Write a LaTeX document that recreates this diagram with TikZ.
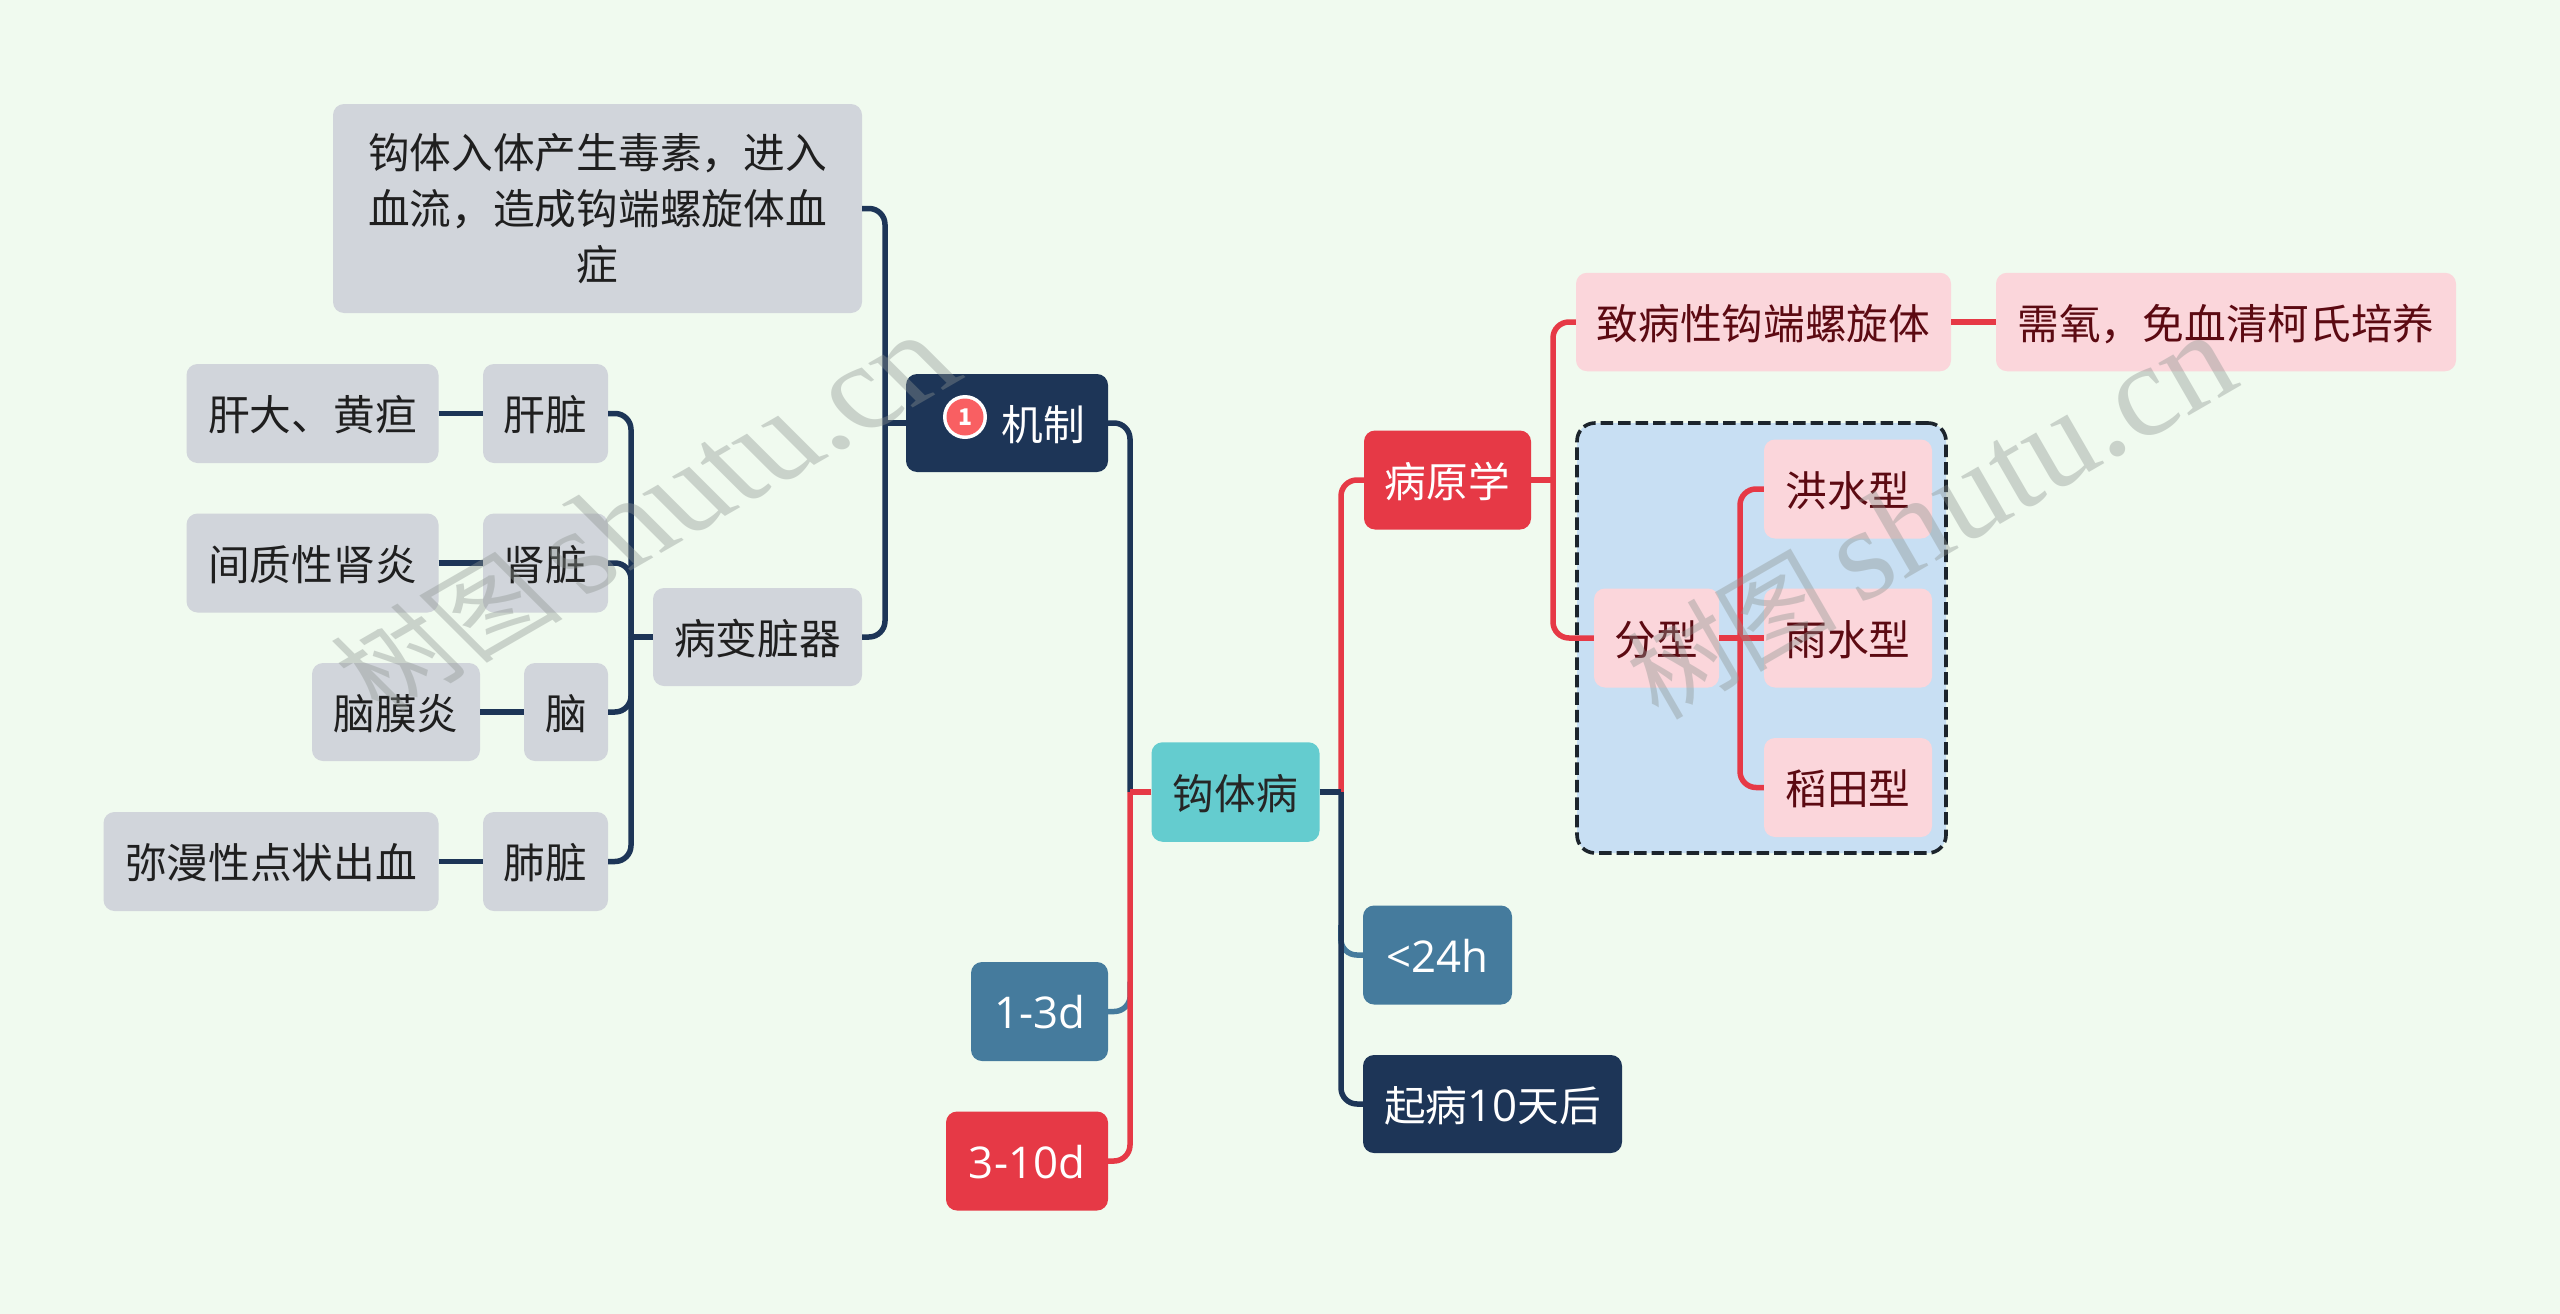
\documentclass[tikz,border=0pt]{standalone}
\usepackage{fontspec}
\setmainfont{Noto Sans CJK SC}
\newfontfamily\wmlatin{Liberation Serif}
\newfontfamily\wmcjk{Noto Sans CJK SC}
\newfontfamily\latn[Scale=1.05]{Open Sans}
\definecolor{bgc}{HTML}{F0FAEF}
\definecolor{grayf}{HTML}{D1D5DB}
\definecolor{navyc}{HTML}{1D3557}
\definecolor{redc}{HTML}{E63946}
\definecolor{steelc}{HTML}{457B9D}
\definecolor{tealc}{HTML}{64CCCF}
\definecolor{pinkf}{HTML}{FBD6DB}
\definecolor{pinkt}{HTML}{5C0A12}
\definecolor{groupf}{HTML}{C8DFF3}
\definecolor{groupl}{HTML}{1C242C}
\definecolor{wm}{HTML}{8C9490}
\definecolor{badgec}{HTML}{F95F62}
\newcommand{\wmtext}{{\fontsize{105pt}{105pt}\wmcjk\selectfont 树图}\hspace{22pt}{\fontsize{132pt}{132pt}\wmlatin\selectfont shutu.cn}}
\tikzset{
  box/.style={rounded corners=11pt,inner sep=0pt,align=center,
    text height=36pt,text depth=2pt,
    font=\fontsize{41.7pt}{55.8pt}\selectfont},
  grayb/.style={box,fill=grayf,text=black!88},
  navyb/.style={box,fill=navyc,text=white},
  redb/.style={box,fill=redc,text=white},
  steelb/.style={box,fill=steelc,text=white},
  tealb/.style={box,fill=tealc,text=black!85},
  pinkb/.style={box,fill=pinkf,text=pinkt},
  conn/.style={line width=5.5pt,rounded corners=16pt},
  cnavy/.style={conn,draw=navyc},
  cred/.style={conn,draw=redc},
  csteel/.style={conn,draw=steelc},
  wmark/.style={transform shape,text=wm,opacity=.39,inner sep=0pt},
}
\begin{document}
\begin{tikzpicture}[x=1pt,y=-1pt]
\useasboundingbox (0,0) rectangle (2560,1314);
\fill[bgc] (0,0) rectangle (2560,1314);

% hubs
\coordinate (hubA) at (885,423);
\coordinate (hubB) at (631,637);
\coordinate (hubL) at (1130,792);
\coordinate (hubR) at (1341,792);
\coordinate (hubP) at (1553,480);
\coordinate (hubF) at (1740,638);

% group
\node[draw=groupl,fill=groupf,line width=3.6pt,dash pattern=on 12.5pt off 5pt,rounded corners=18pt,
  minimum width=369pt,minimum height=430pt,inner sep=0pt] (grp) at (1761.5,638) {};

% nodes
\node[grayb,text height=,text depth=,minimum width=529pt,minimum height=209pt] (top) at (597.5,208.5)
  {钩体入体产生毒素，进入\\血流，造成钩端螺旋体血\\症};
\node[navyb,minimum width=202pt,minimum height=98pt] (jz) at (1007,423) {\hspace*{72pt}机制};
\node[grayb,minimum width=209pt,minimum height=98pt] (bb) at (757.5,637) {病变脏器};
\node[grayb,minimum width=125pt,minimum height=99pt] (gz) at (545.5,413.5) {肝脏};
\node[grayb,minimum width=125pt,minimum height=99pt] (sz) at (545.5,563) {肾脏};
\node[grayb,minimum width=84pt,minimum height=98pt] (nao) at (566,712) {脑};
\node[grayb,minimum width=125pt,minimum height=99pt] (fz) at (545.5,861.5) {肺脏};
\node[grayb,minimum width=252pt,minimum height=99pt] (gd) at (312.5,413.5) {肝大、黄疸};
\node[grayb,minimum width=252pt,minimum height=99pt] (jz2) at (312.5,563) {间质性肾炎};
\node[grayb,minimum width=168pt,minimum height=98pt] (nm) at (396,712) {脑膜炎};
\node[grayb,minimum width=335pt,minimum height=99pt] (mm) at (271,861.5) {弥漫性点状出血};
\node[tealb,minimum width=168pt,minimum height=99.5pt] (root) at (1235.5,792) {钩体病};
\node[steelb,minimum width=137pt,minimum height=99pt] (d13) at (1039.5,1011.5) {\latn 1-3d};
\node[redb,minimum width=162pt,minimum height=99pt] (d310) at (1027,1161) {\latn 3-10d};
\node[steelb,minimum width=149pt,minimum height=99pt] (h24) at (1437.5,955) {\latn <24h};
\node[navyb,minimum width=259pt,minimum height=98pt] (qb) at (1492.5,1104) {起病{\latn 10}天后};
\node[redb,minimum width=167pt,minimum height=99pt] (by) at (1447.5,480) {病原学};
\node[pinkb,minimum width=375pt,minimum height=98.5pt] (zb) at (1763.5,322) {致病性钩端螺旋体};
\node[pinkb,minimum width=460pt,minimum height=98.5pt] (xy) at (2226,322) {需氧，免血清柯氏培养};
\node[pinkb,minimum width=125pt,minimum height=99pt] (fx) at (1656.5,638) {分型};
\node[pinkb,minimum width=168pt,minimum height=99pt] (hs) at (1848,489) {洪水型};
\node[pinkb,minimum width=168pt,minimum height=99pt] (ys) at (1848,638) {雨水型};
\node[pinkb,minimum width=168pt,minimum height=99pt] (dt) at (1848,787.5) {稻田型};

% badge
\node[circle,fill=white,minimum size=44pt,inner sep=0pt] (bdgo) at (965,417) {};
\node[circle,fill=badgec,minimum size=37pt,inner sep=0pt,text=white,
  font=\fontsize{23pt}{23pt}\selectfont\bfseries] (bdg) at (965,417) {1};

% connectors: left-hand tree
\draw[cnavy] (top.east) -| (hubA);
\draw[cnavy] (bb.east) -| (hubA);
\draw[cnavy] (jz.west) -- (hubA);
\draw[cnavy] (bb.west) -- (hubB);
\draw[cnavy] (gz.east) -| (hubB);
\draw[cnavy] (sz.east) -| (hubB);
\draw[cnavy] (nao.east) -| (hubB);
\draw[cnavy] (fz.east) -| (hubB);
\draw[cnavy] (gd.east) -- (gz.west);
\draw[cnavy] (jz2.east) -- (sz.west);
\draw[cnavy] (nm.east) -- (nao.west);
\draw[cnavy] (mm.east) -- (fz.west);

% connectors: centre
\draw[csteel] (d13.east) -| ++(22,-30);
\draw[csteel] (h24.west) -| ++(-22,-30);
\draw[cnavy] (jz.east) -| (hubL);
\draw[cred] (root.west) -- (hubL);
\draw[cred] (hubL) |- (d310.east);
\draw[cred] (by.west) -| (hubR);
\draw[cnavy] (root.east) -- (hubR);
\draw[cnavy] (hubR) |- (qb.west);

% connectors: right-hand tree
\draw[cred] (by.east) -- (hubP);
\draw[cred] (hubP) |- (zb.west);
\draw[cred] (hubP) |- (fx.west);
\draw[cred] (zb.east) -- (xy.west);
\draw[cred] (fx.east) -- (ys.west);
\draw[cred] (hubF) |- (hs.west);
\draw[cred] (hubF) |- (dt.west);

% watermarks
\begin{scope}[shift={(645,515)},rotate=30,xslant=-0.27]
\node[wmark] (wm1) at (0,0) {\wmtext};
\end{scope}
\begin{scope}[shift={(1930,517)},rotate=30]
\node[wmark] (wm2) at (0,0) {\wmtext};
\end{scope}
\end{tikzpicture}
\end{document}
